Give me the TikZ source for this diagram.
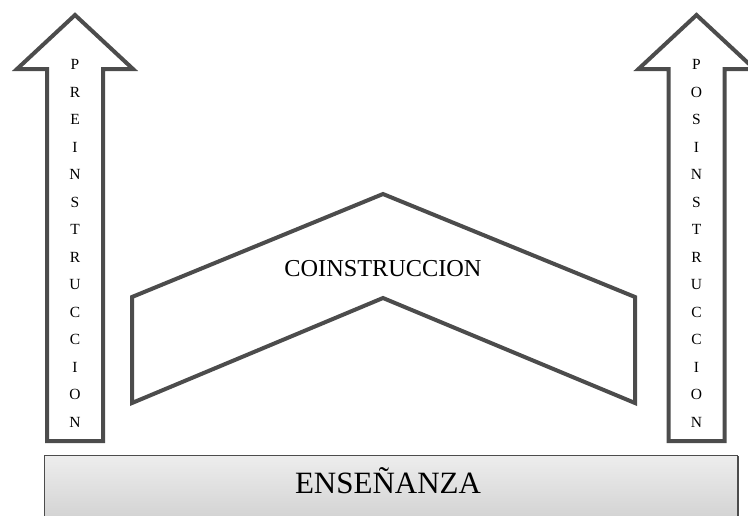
\documentclass[tikz,border=0pt]{standalone}
\usepackage{fontspec}
\setmainfont{Liberation Serif}
\begin{document}
\begin{tikzpicture}[x=1pt,y=-1pt,
  shapeline/.style={draw=black!70,line width=4pt,line join=miter,fill=white},
  vletter/.style={anchor=base,inner sep=0pt,font=\fontsize{15.5}{16}\selectfont},
  boxgrad/.style={top color=black!7,bottom color=black!20,draw=black!70,line width=1.5pt}]
\useasboundingbox (0,0) rectangle (748,515);
\clip (0,0) rectangle (748,515);
% left arrow
\draw[shapeline] (47,441) -- (47,69) -- (17,69) -- (75,15) -- (133,69) -- (103,69) -- (103,441) -- cycle;
% right arrow
\draw[shapeline] (668.5,441) -- (668.5,69) -- (638.5,69) -- (696.5,15) -- (754.5,69) -- (724.5,69) -- (724.5,441) -- cycle;
% chevron
\draw[shapeline] (132,297) -- (383,194) -- (635,297) -- (635,403) -- (383,298) -- (132,403) -- cycle;
\node[anchor=base,inner sep=0pt,font=\fontsize{24.3}{26}\selectfont] (coin) at (383,276.7) {COINSTRUCCION};
% vertical letters
\foreach \l [count=\i] in {P,R,E,I,N,S,T,R,U,C,C,I,O,N}
  \node[vletter] (pre\i) at (75,{69.5+(\i-1)*27.5}) {\l};
\foreach \l [count=\i] in {P,O,S,I,N,S,T,R,U,C,C,I,O,N}
  \node[vletter] (pos\i) at (696.5,{69.5+(\i-1)*27.5}) {\l};
% base box
\draw[black!70,line width=3pt] (737,456) -- (737,530);
\node[boxgrad,minimum width=693pt,minimum height=80pt,anchor=north west,inner sep=0pt] (ens) at (43.5,454.5) {};
\node[anchor=base,inner sep=0pt,font=\fontsize{31}{33}\selectfont] (enst) at (388,493.3) {ENSEÑANZA};
\end{tikzpicture}
\end{document}
